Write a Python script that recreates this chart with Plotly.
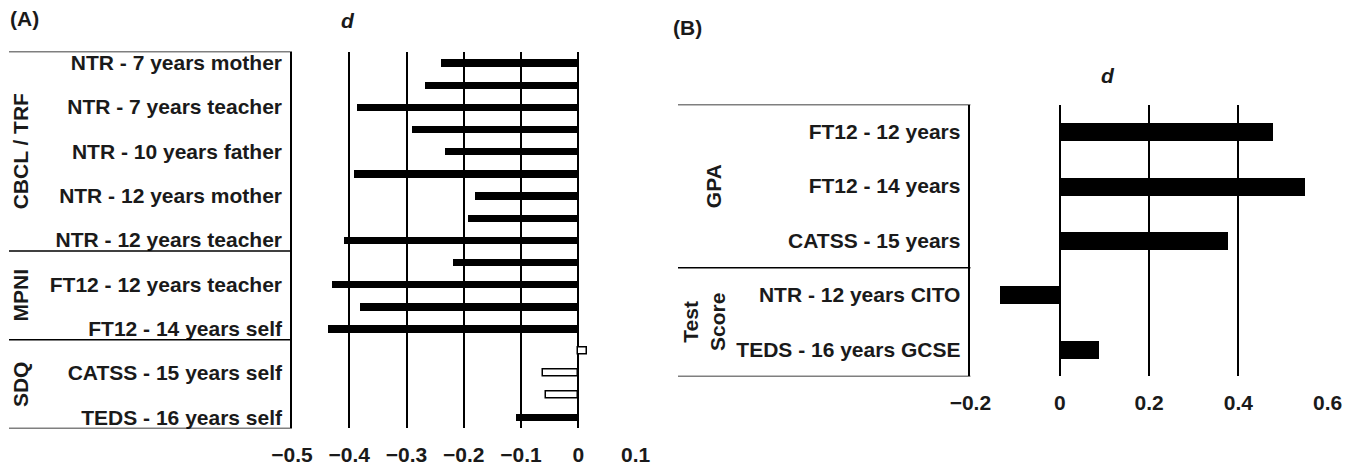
import plotly.graph_objects as go

# ---------------- Panel A data ----------------
A_LABELS = [
    "NTR - 7 years mother", "NTR - 7 years teacher", "NTR - 10 years father",
    "NTR - 12 years mother", "NTR - 12 years teacher", "FT12 - 12 years teacher",
    "FT12 - 14 years self", "CATSS - 15 years self", "TEDS - 16 years self",
]
A_VALUES = [-0.240, -0.267, -0.387, -0.290, -0.232, -0.391, -0.180, -0.193,
            -0.409, -0.218, -0.431, -0.381, -0.438, 0.015, -0.061, -0.056, -0.108]
A_OPEN = [False] * 13 + [True, True, True] + [False]
A_GROUPS = ["CBCL / TRF", "MPNI", "SDQ"]
A_GROUP_SIZES = [9, 4, 4]
A_TICKS = [-0.5, -0.4, -0.3, -0.2, -0.1, 0, 0.1]

# ---------------- Panel B data ----------------
B_LABELS = ["FT12 - 12 years", "FT12 - 14 years", "CATSS - 15 years",
            "NTR - 12 years CITO", "TEDS - 16 years GCSE"]
B_VALUES = [0.478, 0.550, 0.378, -0.132, 0.088]
B_GROUPS = ["GPA", "Test<br>Score"]
B_GROUP_SIZES = [3, 2]
B_TICKS = [-0.2, 0, 0.2, 0.4, 0.6]

# page body has an 8px margin; the figure fills the rest of the window
OFF = 8
W, H = 1354 - OFF, 465 - OFF
FONT = "Liberation Sans, Arial, Helvetica, sans-serif"
TXT = "#1a1a1a"
FS = 21


def px_x(p):
    return (p - OFF) / W


def px_y(p):
    return 1 - (p - OFF) / H


A_DOM_X = [px_x(292), px_x(635.6)]
A_DOM_Y = [px_y(428.4), px_y(51.6)]
B_DOM_X = [px_x(970.4), px_x(1327.7)]
B_DOM_Y = [px_y(376.4), px_y(104.6)]

fig = go.Figure()

a_rows = list(range(1, len(A_VALUES) + 1))
fill_rows = [r for r, o in zip(a_rows, A_OPEN) if not o]
fill_vals = [v for v, o in zip(A_VALUES, A_OPEN) if not o]
open_rows = [r for r, o in zip(a_rows, A_OPEN) if o]
open_vals = [v for v, o in zip(A_VALUES, A_OPEN) if o]

fig.add_trace(go.Bar(x=fill_vals, y=fill_rows, orientation="h", width=0.33,
                     marker=dict(color="black", line=dict(width=0)),
                     xaxis="x", yaxis="y", showlegend=False))
fig.add_trace(go.Bar(x=open_vals, y=open_rows, orientation="h", width=0.33,
                     marker=dict(color="white", line=dict(color="black", width=1.5)),
                     xaxis="x", yaxis="y", showlegend=False))

b_rows = list(range(1, len(B_VALUES) + 1))
fig.add_trace(go.Bar(x=B_VALUES, y=b_rows, orientation="h", width=0.33,
                     marker=dict(color="black", line=dict(width=0)),
                     xaxis="x2", yaxis="y2", showlegend=False))

tickfont = dict(family=FONT, size=FS, color=TXT, weight="bold")

common_x = dict(showgrid=True, gridcolor="black", gridwidth=1.5, zeroline=False,
                showline=False, ticks="", tickfont=tickfont, ticklabelstandoff=12,
                fixedrange=True, automargin=False)
common_y = dict(showgrid=False, zeroline=False, showline=True, linecolor="black",
                linewidth=1.5, ticks="", tickfont=tickfont, ticklabelstandoff=4,
                fixedrange=True, automargin=False)

fig.update_layout(
    template="none",
    width=W, height=H,
    margin=dict(l=0, r=0, t=0, b=0, pad=0),
    paper_bgcolor="white", plot_bgcolor="white",
    bargap=0,
    xaxis=dict(domain=A_DOM_X, range=[A_TICKS[0], A_TICKS[-1]], tickvals=A_TICKS,
               anchor="y", **common_x),
    yaxis=dict(domain=A_DOM_Y, range=[len(A_VALUES) + 0.5, 0.5],
               tickvals=a_rows[::2], ticktext=A_LABELS, anchor="x", **common_y),
    xaxis2=dict(domain=B_DOM_X, range=[B_TICKS[0], B_TICKS[-1]], tickvals=B_TICKS,
                anchor="y2", **common_x),
    yaxis2=dict(domain=B_DOM_Y, range=[len(B_VALUES) + 0.5, 0.5],
                tickvals=b_rows, ticktext=B_LABELS, anchor="x2", **common_y),
)

shapes = []
ann = []


def txt(text, xref, yref, x, y, angle=0, xanchor="center"):
    return dict(text=text, xref=xref, yref=yref, x=x, y=y, showarrow=False,
                textangle=angle, xanchor=xanchor, yanchor="middle",
                font=dict(family=FONT, size=FS, color=TXT, weight="bold"))


# Group box lines, panel A
bounds = [0.5]
for s in A_GROUP_SIZES:
    bounds.append(bounds[-1] + s)
for b in bounds:
    shapes.append(dict(type="line", xref="paper", yref="y", x0=px_x(9), x1=A_DOM_X[0],
                       y0=b, y1=b, line=dict(color="black", width=1.5)))
for g, lo, hi in zip(A_GROUPS, bounds[:-1], bounds[1:]):
    ann.append(txt(g, "paper", "y", px_x(20), (lo + hi) / 2, angle=-90))

# Group box lines, panel B
bbounds = [0.5]
for s in B_GROUP_SIZES:
    bbounds.append(bbounds[-1] + s)
for b in bbounds:
    shapes.append(dict(type="line", xref="paper", yref="y2", x0=px_x(678), x1=B_DOM_X[0],
                       y0=b, y1=b, line=dict(color="black", width=1.5)))
bgx = [px_x(713), px_x(704)]
for g, lo, hi, gx in zip(B_GROUPS, bbounds[:-1], bbounds[1:], bgx):
    ann.append(txt(g, "paper", "y2", gx, (lo + hi) / 2, angle=-90))

# Panel letters and axis titles
ann.append(txt("(A)", "paper", "paper", px_x(8), px_y(19), xanchor="left"))
ann.append(txt("(B)", "paper", "paper", px_x(671), px_y(27), xanchor="left"))
ann.append(txt("<i>d</i>", "paper", "paper", px_x(348), px_y(20)))
ann.append(txt("<i>d</i>", "paper", "paper", px_x(1108), px_y(76)))

fig.update_layout(shapes=shapes, annotations=ann)
fig.write_html("out.html")
